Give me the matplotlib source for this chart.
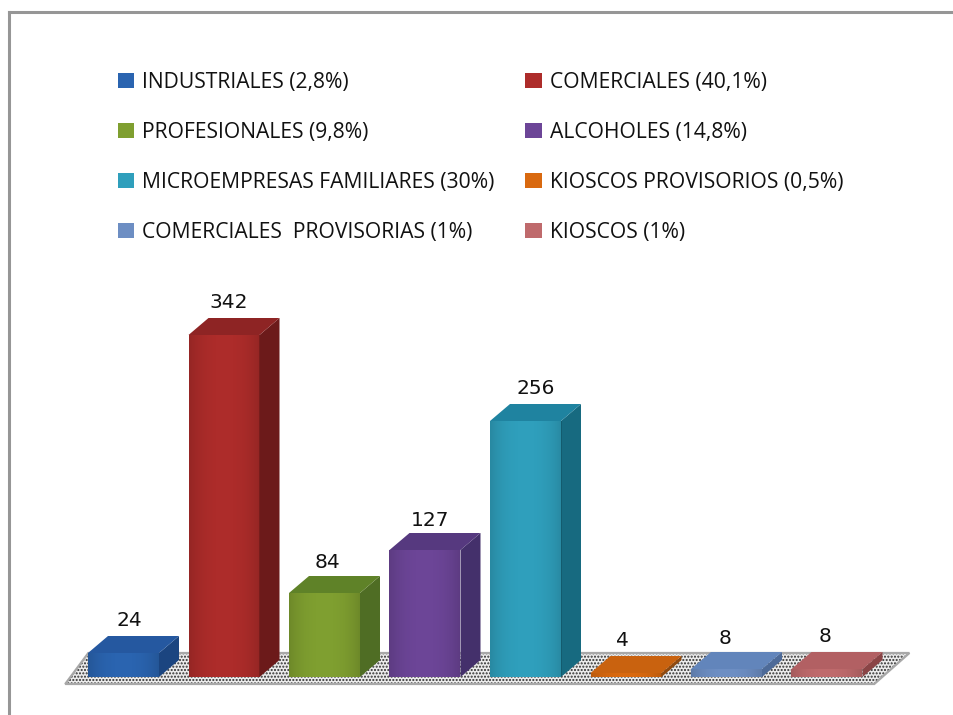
import numpy as np
import matplotlib
matplotlib.use("Agg")
import matplotlib.pyplot as plt
from matplotlib.patches import Polygon
from matplotlib.lines import Line2D

categories = ["INDUSTRIALES (2,8%)", "COMERCIALES (40,1%)", "PROFESIONALES (9,8%)", "ALCOHOLES (14,8%)",
              "MICROEMPRESAS FAMILIARES (30%)", "KIOSCOS PROVISORIOS (0,5%)",
              "COMERCIALES  PROVISORIAS (1%)", "KIOSCOS (1%)"]
values = [24, 342, 84, 127, 256, 4, 8, 8]
front_colors = ["#2a64b0", "#ad2c2a", "#7f9f30", "#6c4597", "#2f9fbc", "#d9690f", "#6d8ec3", "#bf6a6c"]
side_colors = ["#1b4580", "#6c1a1a", "#4f6d24", "#44306b", "#176a80", "#8f4a10", "#4d6a98", "#8a4446"]
top_colors = ["#2558a0", "#8e2424", "#5f8228", "#56397f", "#1f83a0", "#c9620f", "#6285bb", "#b26063"]
label_dx = [6, 5, 3, 5, 10, -4, -1, -2]
label_dy = [32, 32, 30, 30, 33, 32, 30, 32]
legend_order = [0, 2, 4, 6, 1, 3, 5, 7]

PITCH, X0, Y0 = 100.5, 123.5, 677
W = 71 / PITCH
DX, DY = 20 / PITCH, 17

plt.rcParams["font.family"] = ["Open Sans", "DejaVu Sans"]
plt.rcParams["hatch.linewidth"] = 1.0
fig = plt.figure(figsize=(9.54, 7.15), dpi=100)
ax = fig.add_axes([0, 0, 1, 1])
ax.axis("off")

x = np.arange(len(values))

# dotted floor
fx = [-0.58, 7.47, 7.82, -0.35]
fy = [-7, -7, 24, 24]
ax.add_patch(Polygon(np.c_[fx, fy], closed=True, facecolor="#ececec", edgecolor="none", zorder=1))
ax.add_patch(Polygon(np.c_[fx, fy], closed=True, facecolor="none", edgecolor="#2e2e2e", hatch=".....", lw=0, zorder=1.1))
ax.add_patch(Polygon(np.c_[fx, fy], closed=True, facecolor="none", edgecolor="#a8a8a8", lw=1.6, zorder=1.2))

bars = ax.bar(x, values, width=W, color=front_colors, zorder=3, linewidth=0)

grad = np.linspace(0, 1, 64)
for i, (b, v) in enumerate(zip(bars, values)):
    l, r = b.get_x(), b.get_x() + b.get_width()
    ax.add_patch(Polygon([(r, 0), (r + DX, DY), (r + DX, v + DY), (r, v)], closed=True,
                         facecolor=side_colors[i], edgecolor="none", zorder=3))
    ax.add_patch(Polygon([(l, v), (r, v), (r + DX, v + DY), (l + DX, v + DY)], closed=True,
                         facecolor=top_colors[i], edgecolor="none", zorder=3))
    # soft shading on the front face
    rgba = np.zeros((1, 64, 4))
    rgba[..., 3] = 0.14 * np.abs(2 * grad - 1) ** 2.5
    ax.imshow(rgba, extent=(l, r, 0, v), aspect="auto", zorder=3.1, interpolation="bilinear")
    ax.annotate(str(v), (x[i], v), xytext=(label_dx[i] * 0.72, label_dy[i] * 0.72),
                textcoords="offset points", ha="center", va="center",
                fontsize=14.5, family="DejaVu Sans", color="#111111", zorder=5)

ax.set_xlim(-X0 / PITCH, (954 - X0) / PITCH)
ax.set_ylim(-(715 - Y0), Y0)

leg = ax.legend([bars[i] for i in legend_order], [categories[i] for i in legend_order],
                ncol=2, loc="upper left", bbox_to_anchor=(118 / 954, 1 - 72 / 715),
                bbox_transform=fig.transFigure, frameon=False, borderpad=0, borderaxespad=0,
                fontsize=15.2, labelspacing=1.37, columnspacing=1.47,
                handlelength=0.76, handleheight=0.76, handletextpad=0.38, labelcolor="#111111")

# outer chart frame (right and bottom fall off the canvas)
for xs, ys in [((9, 954), (12, 12)), ((9, 9), (12, 715))]:
    fig.add_artist(Line2D([p / 954 for p in xs], [1 - p / 715 for p in ys],
                          color="#969696", lw=2.2, transform=fig.transFigure))

fig.savefig("out.png", dpi=100)
